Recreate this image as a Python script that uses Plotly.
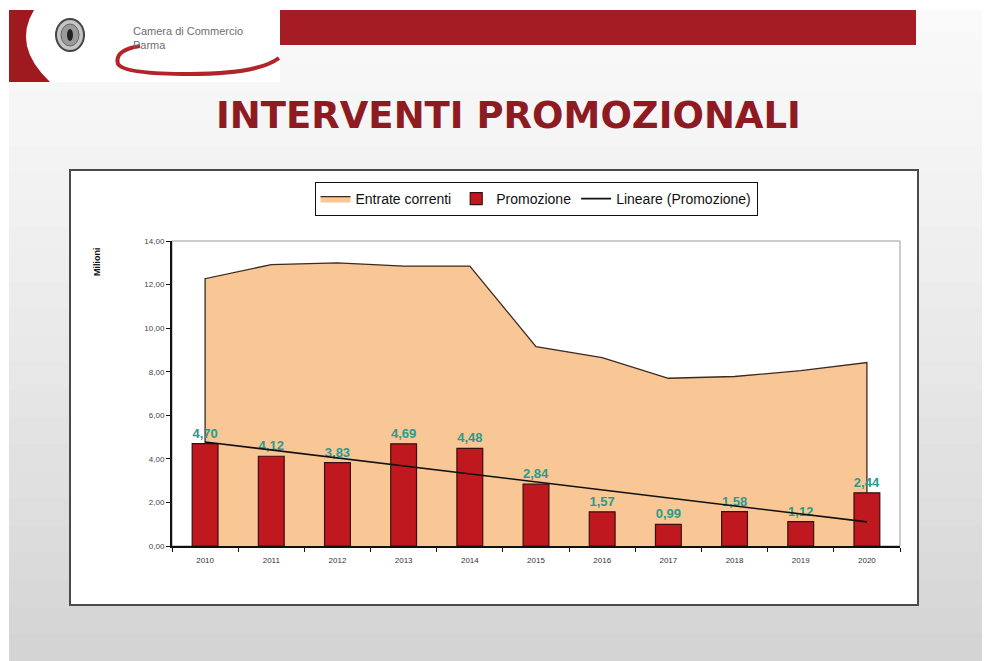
import numpy as np
import plotly.graph_objects as go

# --- data (milioni di euro) ---
YEARS = ["2010", "2011", "2012", "2013", "2014", "2015", "2016", "2017", "2018", "2019", "2020"]
ENTRATE = [12.27, 12.92, 13.0, 12.85, 12.85, 9.15, 8.65, 7.70, 7.78, 8.05, 8.42]
PROMOZIONE = [4.70, 4.12, 3.83, 4.69, 4.48, 2.84, 1.57, 0.99, 1.58, 1.12, 2.44]

TITLE = "INTERVENTI PROMOZIONALI"
Y_TITLE = "Milioni"

PEACH = "#F9C796"
RED = "#C0181F"
TEAL = "#2A9A8C"
FONT = "Liberation Sans, Arial, sans-serif"

# page has an 8px body margin, so the figure is a bit smaller than the window
OFF = 8
W, H = 990, 661
PL, PR, PT, PB = 172, 900, 241, 546   # plot area, in window pixels


def px(x):
    return (x - PL) / (PR - PL)


def py(y):
    return (PB - y) / (PB - PT)


def curve(cmds):
    return " ".join(c if isinstance(c, str) else f"{px(c[0])},{py(c[1])}" for c in cmds)


# Excel-style linear trendline of the promotion series
idx = np.arange(len(PROMOZIONE))
slope, icpt = np.polyfit(idx, PROMOZIONE, 1)
trend = icpt + slope * idx

fig = go.Figure()
fig.add_trace(
    go.Scatter(
        x=[YEARS[0]] + YEARS + [YEARS[-1]], y=[0] + ENTRATE + [0],
        name="Entrate correnti", fill="toself", fillcolor=PEACH,
        mode="lines", line=dict(color="#3b2a20", width=1.3),
    )
)
# bars + trend on an overlaid axis so they sit above the filled area
fig.add_trace(
    go.Bar(
        x=YEARS, y=PROMOZIONE, name="Promozione", width=0.39, yaxis="y2",
        marker=dict(color=RED, line=dict(color="#3a0f0f", width=1.2)),
        text=[f"{v:.2f}".replace(".", ",") for v in PROMOZIONE],
        textposition="outside", constraintext="none", cliponaxis=False,
        textfont=dict(color=TEAL, size=13, family=FONT, weight="bold"),
    )
)
fig.add_trace(
    go.Scatter(
        x=YEARS, y=trend, name="Lineare (Promozione)", mode="lines", yaxis="y2",
        line=dict(color="#111111", width=1.6),
    )
)

shapes = []
# slide background: light vertical gradient
n = 24
top, bot = 10, H
for i in range(n):
    y0 = top + (bot - top) * i / n
    y1 = top + (bot - top) * (i + 1) / n
    g = int(249 - (249 - 212) * (i / (n - 1)) ** 1.3)
    shapes.append(dict(type="rect", xref="paper", yref="paper",
                       x0=px(9), x1=px(W + 5), y0=py(y1 + 1), y1=py(y0),
                       fillcolor=f"rgb({g},{g},{g})", line=dict(width=0), layer="below"))
# header: red bar, white logo tab, left crescent, swoosh and seal
shapes.append(dict(type="rect", xref="paper", yref="paper", x0=px(275), x1=px(916),
                   y0=py(45), y1=py(10), fillcolor="#A61C24", line=dict(width=0), layer="below"))
shapes.append(dict(type="rect", xref="paper", yref="paper", x0=px(9), x1=px(280),
                   y0=py(82), y1=py(10), fillcolor="white", line=dict(width=0), layer="below"))
shapes.append(dict(type="path", xref="paper", yref="paper",
                   path=curve(["M", (9, 10), "L", (34, 10), "Q", (12, 46), (50, 82),
                               "L", (9, 82), "Z"]),
                   fillcolor="#9E1A1F", line=dict(width=0), layer="below"))
shapes.append(dict(type="path", xref="paper", yref="paper",
                   path=curve(["M", (140, 46), "Q", (114, 50), (118, 64), "Q", (124, 74),
                               (190, 74), "Q", (258, 74), (279, 58)]),
                   line=dict(color="#B3242A", width=4), layer="below"))
shapes.append(dict(type="circle", xref="paper", yref="paper", x0=px(56), x1=px(84),
                   y0=py(51), y1=py(19), fillcolor="#c4c4c4",
                   line=dict(color="#444", width=2), layer="below"))
shapes.append(dict(type="circle", xref="paper", yref="paper", x0=px(61), x1=px(79),
                   y0=py(46), y1=py(24), fillcolor="#9a9a9a",
                   line=dict(color="#666", width=1), layer="below"))
shapes.append(dict(type="circle", xref="paper", yref="paper", x0=px(67), x1=px(73),
                   y0=py(41), y1=py(29), fillcolor="#222", line=dict(width=0), layer="below"))
# chart frame and plot-area border
shapes.append(dict(type="rect", xref="paper", yref="paper", x0=px(70), x1=px(918),
                   y0=py(605), y1=py(170), fillcolor="white",
                   line=dict(color="#4a4a4a", width=2), layer="below"))
shapes.append(dict(type="rect", xref="paper", yref="paper", x0=0, x1=1, y0=0, y1=1,
                   line=dict(color="#9a9a9a", width=1), layer="below"))

annotations = [
    dict(text=f"<b>{TITLE}</b>", xref="paper", yref="paper", x=px(508), y=py(115),
         xanchor="center", yanchor="middle", showarrow=False,
         font=dict(family="DejaVu Sans", size=37, color="#8E1B22")),
    dict(text="Camera di Commercio<br>Parma", xref="paper", yref="paper",
         x=px(131), y=py(38), xanchor="left", yanchor="middle", align="left",
         showarrow=False, font=dict(family=FONT, size=11, color="#6f6f6f")),
    dict(text=f"<b>{Y_TITLE}</b>", xref="paper", yref="paper", x=px(97), y=py(262),
         xanchor="center", yanchor="middle", textangle=-90, showarrow=False,
         font=dict(family=FONT, size=9, color="#111")),
]

fig.update_layout(
    width=W - OFF, height=H - OFF,
    margin=dict(l=PL - OFF, r=W - PR, t=PT - OFF, b=H - PB, pad=0),
    paper_bgcolor="white", plot_bgcolor="rgba(0,0,0,0)",
    separators=",.",
    font=dict(family=FONT, size=12, color="#111"),
    shapes=shapes, annotations=annotations,
    showlegend=True,
    legend=dict(orientation="h", x=px(536), xanchor="center", y=py(182), yanchor="top",
                bgcolor="white", bordercolor="#111", borderwidth=1,
                font=dict(family=FONT, size=14, color="#111"), itemwidth=30,
                tracegroupgap=0, traceorder="normal"),
    bargap=0.6,
)
fig.update_xaxes(
    type="category", categoryorder="array", categoryarray=YEARS,
    tickson="boundaries", ticks="outside", ticklen=4, tickcolor="#111",
    showline=True, linecolor="#111", linewidth=2, showgrid=False,
    ticklabelstandoff=5,
    tickfont=dict(size=8, color="#333"), range=[-0.5, len(YEARS) - 0.5],
)
fig.update_yaxes(
    range=[0, 14], dtick=2, tickformat=".2f", ticks="outside", ticklen=4,
    tickcolor="#111", showline=True, linecolor="#111", linewidth=2,
    showgrid=False, zeroline=False, tickfont=dict(size=8, color="#444"),
)
fig.update_layout(yaxis2=dict(overlaying="y", range=[0, 14], visible=False))

fig.write_html("out.html")
